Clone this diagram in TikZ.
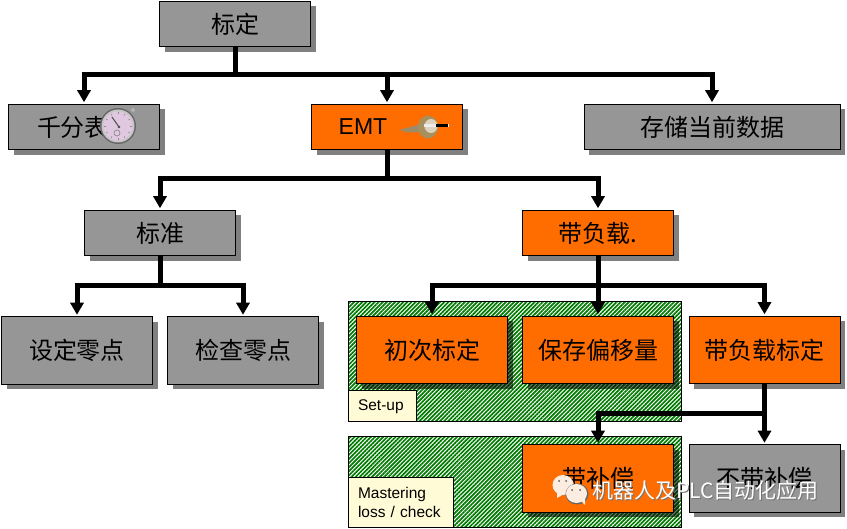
\documentclass[tikz,border=0pt]{standalone}
\usepackage{fontspec}
\setmainfont{Liberation Sans}
\newfontfamily\cjk{Noto Sans CJK SC}
\usetikzlibrary{shadows,patterns.meta,arrows.meta}
\definecolor{boxgray}{HTML}{969696}
\definecolor{boxorange}{HTML}{FF6D00}
\definecolor{noteyellow}{HTML}{FFFBD7}
\definecolor{hatchgreen}{HTML}{007A00}
\definecolor{castgray}{HTML}{808080}
\definecolor{bubble}{HTML}{FDEDE0}
\definecolor{brass}{HTML}{A88F5E}
\tikzset{
  base/.style={draw=black,line width=1pt,inner sep=0pt,align=center,text=black,
    font=\fontsize{24}{26}\selectfont\cjk},
  graybox/.style={base,fill=boxgray,drop shadow={shadow xshift=5pt,shadow yshift=-5pt,fill=castgray,opacity=1}},
  orangebox/.style={base,fill=boxorange,drop shadow={shadow xshift=5pt,shadow yshift=-5pt,fill=castgray,opacity=1}},
  insetbox/.style={base,fill=boxorange,drop shadow={shadow xshift=5pt,shadow yshift=-5pt,fill=black,opacity=.55}},
  wide/.style={minimum width=151pt,minimum height=45.5pt},
  tall/.style={minimum width=151pt,minimum height=67.5pt},
  hatched/.style={draw=black,line width=1pt,inner sep=0pt,
    pattern={Lines[angle=45,distance=2.9pt,line width=1.7pt]},pattern color=hatchgreen},
  note/.style={draw=black,line width=1pt,fill=noteyellow,inner sep=0pt,align=left,text=black,
    font=\fontsize{15.5}{19.5}\selectfont},
  feed/.style={line width=5pt,draw=black,miter limit=10},
  tip/.style={feed,-{Triangle[length=12pt,width=13pt]},shorten >=1.5pt},
}
\begin{document}
\begin{tikzpicture}[x=1pt,y=-1pt]
\useasboundingbox (0,0) rectangle (847,529);

% hatched backing panels
\node[hatched,minimum width=333pt,minimum height=120pt] (setup) at (515,362) {};
\node[hatched,minimum width=333pt,minimum height=90pt] (master) at (515,482) {};

% top level
\node[graybox,wide] (root) at (235,24) {标定};
\node[graybox,wide] (gauge) at (84,127) {千分表\hspace{22pt}};
\node[orangebox,wide] (emt) at (387,127) {\fontsize{23}{26}\selectfont\rmfamily EMT\hspace{48pt}};
\node[graybox,minimum width=256pt,minimum height=45.5pt] (store) at (712,127) {存储当前数据};

% second level
\node[graybox,wide] (std) at (160,233) {标准};
\node[orangebox,wide] (load) at (598,233) {带负载.};

% third level
\node[graybox,tall] (zero) at (77,350.5) {设定零点};
\node[graybox,tall] (check) at (243,350.5) {检查零点};
\node[insetbox,tall] (first) at (432,350) {初次标定};
\node[insetbox,tall] (offset) at (598,350) {保存偏移量};
\node[orangebox,tall] (loadcal) at (764.5,350) {带负载标定};

% bottom row
\node[insetbox,tall] (comp) at (598,478.5) {带补偿};
\node[graybox,tall] (nocomp) at (764.5,478.5) {不带补偿};

% panel captions
\node[note,minimum height=31pt,text width=58pt,inner xsep=5pt] (setuplabel) at (382,406.5) {\hspace{5pt}Set-up};
\node[note,minimum height=49pt,text width=95pt,inner xsep=5pt] (masterlabel) at (400.5,502.5) {\hspace{5pt}Mastering\\\hspace{5pt}loss / check};

% bus junctions
\coordinate (busa) at (235,75);
\coordinate (busb) at (387,179);
\coordinate (busc) at (160,286);
\coordinate (busd) at (598,286);
\coordinate (buse) at (764.5,414);

% connectors
\draw[feed] (root.south) -- (busa);
\draw[tip] (busa) -| (gauge.north);
\draw[tip] (busa) -| (emt.north);
\draw[tip] (busa) -| (store.north);
\draw[feed] (emt.south) -- (busb);
\draw[tip] (busb) -| (std.north);
\draw[tip] (busb) -| (load.north);
\draw[feed] (std.south) -- (busc);
\draw[tip] (busc) -| (zero.north);
\draw[tip] (busc) -| (check.north);
\draw[feed] (load.south) -- (busd);
\draw[tip] (busd) -| (first.north);
\draw[tip] (busd) -- (offset.north);
\draw[tip] (busd) -| (loadcal.north);
\draw[feed] (loadcal.south) -- (buse);
\draw[tip] (buse) -| (comp.north);
\draw[tip] (buse) -- (nocomp.north);

% dial gauge
\fill[gray!60] (133,110) circle (2);
\fill[black!60] (118,126) circle (18);
\fill[black!22] (118,126) circle (16.5);
\fill[white!80!violet!95!gray] (118,126) circle (14.5);
\foreach \a in {0,30,...,330}
  \draw[black!45,line width=.6pt] (118,126) ++(\a:12) -- ++(\a:1.8);
\draw[black!70,line width=1pt] (119,127) -- (112,117);
\fill[black!70] (119,127) circle (1.3);
\draw[black!45,line width=.7pt] (117,133) circle (3);

% EMT probe
\fill[brass!70!gray] (399,130) -- (410,127) -- (421,124) -- (422,132) -- (408,132.5) -- cycle;
\fill[brass] (428,127) ellipse (10 and 11.5);
\fill[white!60!brass] (431,126) ellipse (6.5 and 7);
\fill[black] (436,124.5) rectangle (448,127.5);
\fill[white] (447.5,124.5) rectangle (449,127.5);
\fill[white!85!gray] (424,124.5) rectangle (436,127);

% channel mark in the lower corner
\fill[black!50] (564,486) ellipse (10.5 and 9.5);
\fill[bubble] (563,485) ellipse (10.5 and 10);
\fill[bubble] (557,492) -- (557,498) -- (564,494) -- cycle;
\fill[black!60] (577,494) ellipse (11.5 and 10.5);
\fill[bubble] (576.5,493.5) ellipse (10.5 and 9.5);
\fill[bubble] (581,501) -- (585,505) -- (585,498) -- cycle;
\fill[black!65] (559,481) circle (1) (566,481) circle (1) (572,490) circle (1) (580,490) circle (1);
\node[inner sep=0pt,text=black!55,font=\fontsize{21}{24}\selectfont\cjk] (markcast) at (706.5,491.5) {机器人及PLC自动化应用};
\node[inner sep=0pt,text=white,font=\fontsize{21}{24}\selectfont\cjk] (mark) at (705.5,490.5) {机器人及PLC自动化应用};
\end{tikzpicture}
\end{document}
